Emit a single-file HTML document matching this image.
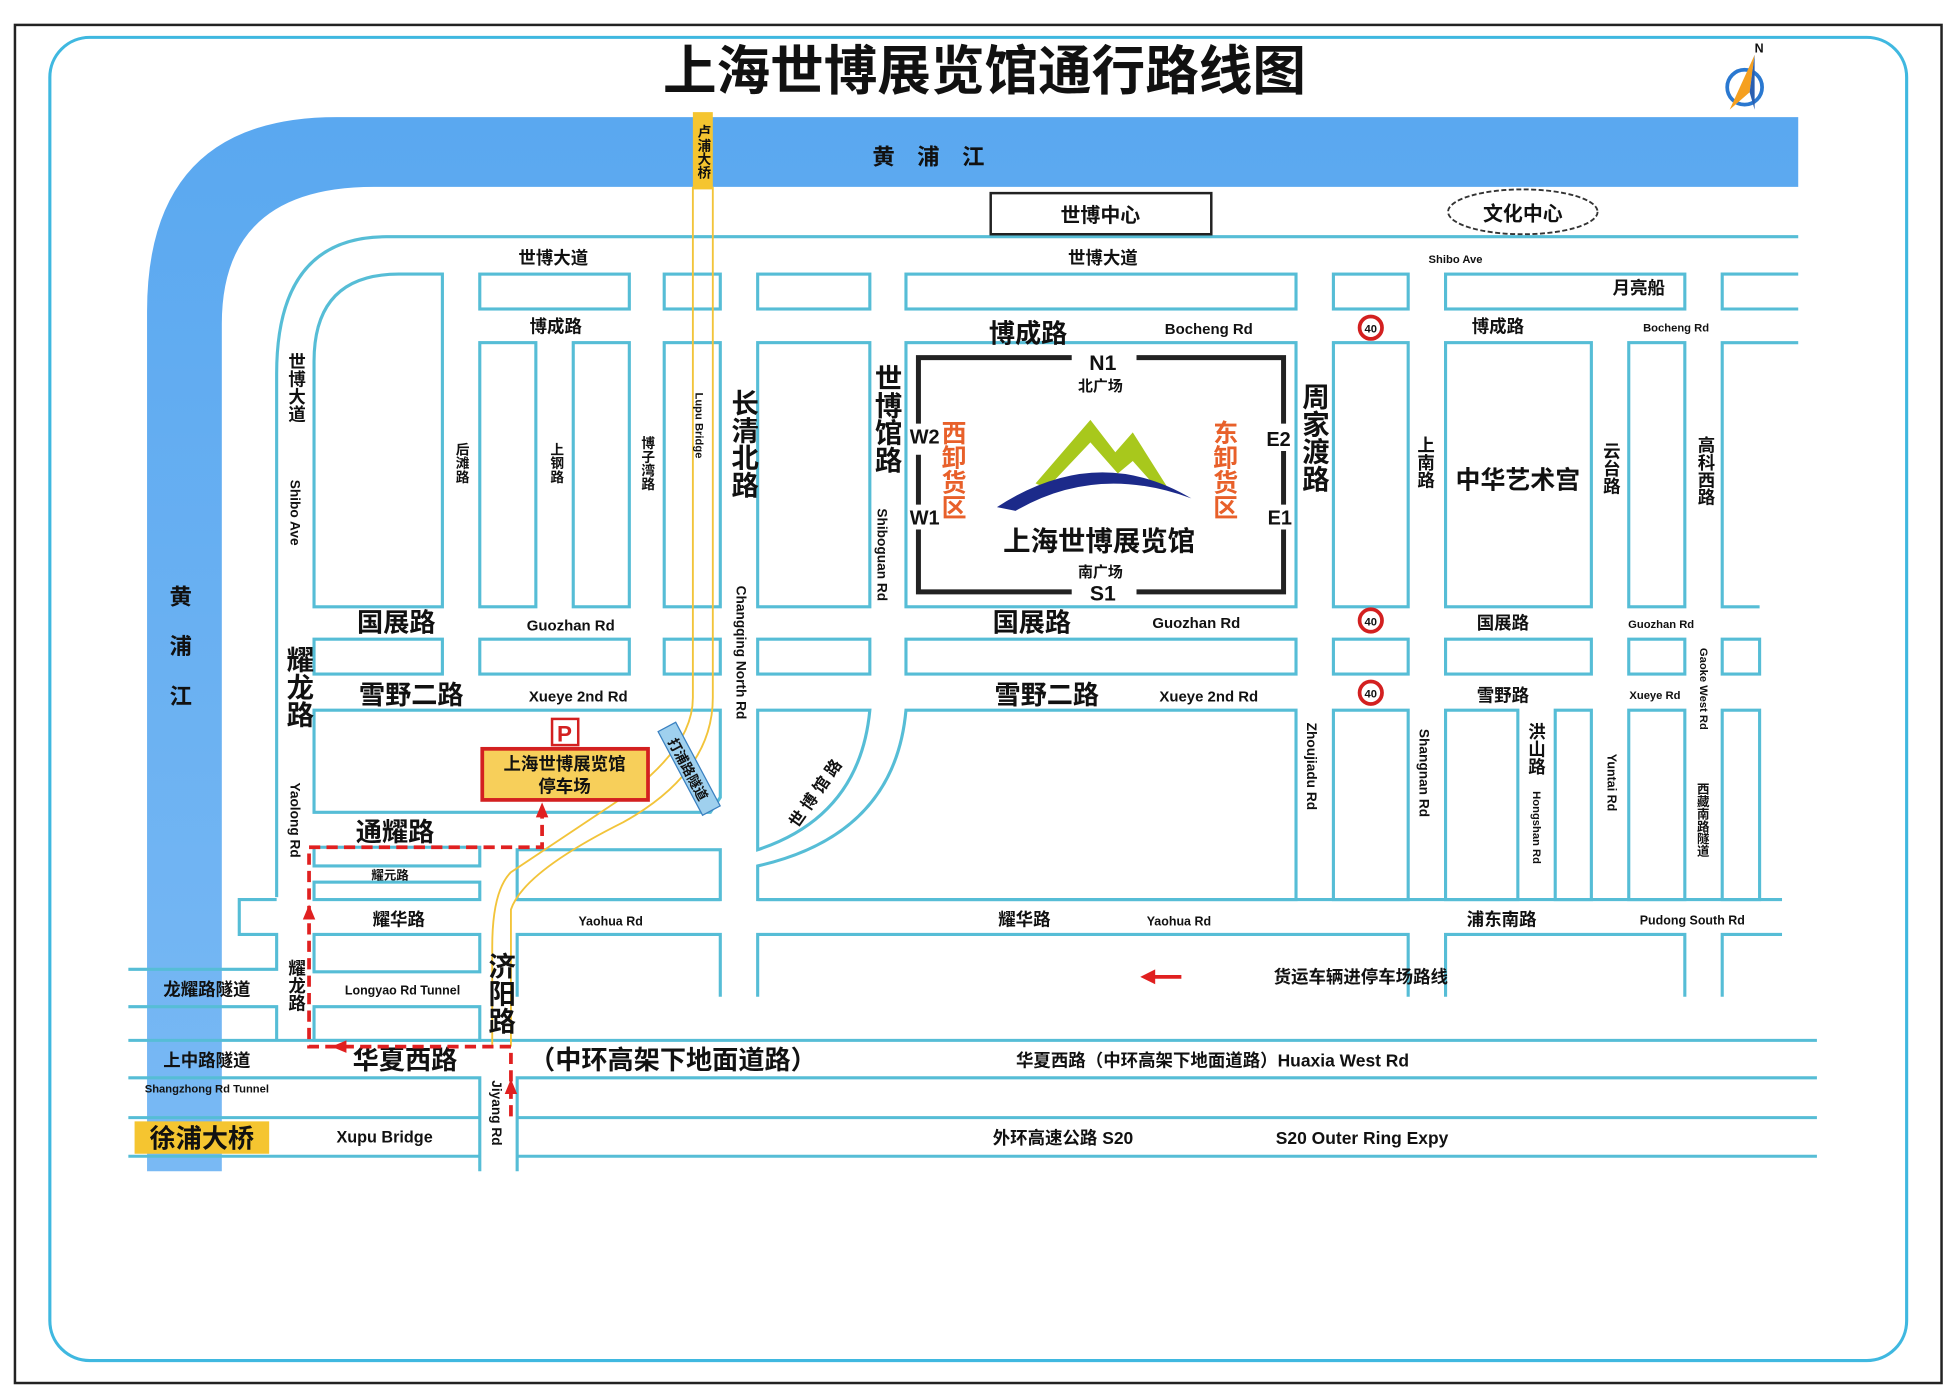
<!DOCTYPE html>
<html><head><meta charset="utf-8"><style>
html,body{margin:0;padding:0;background:#fff}
svg{display:block}
text{font-family:"Liberation Sans","Noto Sans CJK SC",sans-serif;font-weight:bold;fill:#111}
.v{writing-mode:vertical-rl;text-orientation:upright}
</style></head><body>
<svg width="1954" height="1388" viewBox="0 0 1568 1114" preserveAspectRatio="none" xmlns="http://www.w3.org/2000/svg">
<rect x="12" y="20" width="1546" height="1090" fill="#fff" stroke="#222" stroke-width="2"/>
<rect x="40" y="30" width="1490" height="1062" rx="32" fill="#fff" stroke="#3fb8e0" stroke-width="2.5"/>
<text x="790" y="72" font-size="43" text-anchor="middle">上海世博展览馆通行路线图</text>
<!-- compass -->
<g transform="translate(1400,70)">
<circle r="14" fill="none" stroke="#2a78d0" stroke-width="3"/>
<path d="M8,-26 L-12,18 L4,4 Z" fill="#f5a020"/>
<path d="M8,-26 L4,4 L8,18 Z" fill="#2a5fb0"/>
<text x="8" y="-28" font-size="10">N</text>
</g>
<!-- river -->
<defs><linearGradient id="rv" x1="0" y1="0" x2="0" y2="1"><stop offset="0" stop-color="#5aa8f0"/><stop offset="1" stop-color="#79b9f4"/></linearGradient></defs>
<path d="M1443,94 L270,94 Q118,94 118,250 L118,940 L178,940 L178,260 Q178,150 300,150 L1443,150 Z" fill="url(#rv)"/>
<text x="745" y="132" font-size="18" text-anchor="middle">黄　浦　江</text>
<text x="145" y="485" font-size="18" text-anchor="middle">黄</text>
<text x="145" y="525" font-size="18" text-anchor="middle">浦</text>
<text x="145" y="565" font-size="18" text-anchor="middle">江</text>
<!-- roads / blocks -->
<g fill="#fff" stroke="#56bdd6" stroke-width="2.5">
<path d="M1443,190 L310,190 Q222,190 222,300 L222,720" fill="none"/>
<path d="M355,487 L252,487 L252,290 Q252,220 320,220 L355,220 Z"/>
<rect x="385" y="220" width="120" height="28"/><rect x="533" y="220" width="45" height="28"/><rect x="608" y="220" width="90" height="28"/><rect x="727" y="220" width="313" height="28"/><rect x="1070" y="220" width="60" height="28"/><rect x="1160" y="220" width="192" height="28"/><path d="M1443,220 L1382,220 L1382,248 L1443,248"/>
<rect x="385" y="275" width="45" height="212"/><rect x="460" y="275" width="45" height="212"/><rect x="533" y="275" width="45" height="212"/><rect x="608" y="275" width="90" height="212"/><rect x="727" y="275" width="313" height="212"/><rect x="1070" y="275" width="60" height="212"/><rect x="1160" y="275" width="117" height="212"/><rect x="1307" y="275" width="45" height="212"/><path d="M1443,275 L1382,275 L1382,487 L1412,487"/>
<rect x="252" y="513" width="103" height="28"/><rect x="385" y="513" width="120" height="28"/><rect x="533" y="513" width="45" height="28"/><rect x="608" y="513" width="90" height="28"/><rect x="727" y="513" width="313" height="28"/><rect x="1070" y="513" width="60" height="28"/><rect x="1160" y="513" width="117" height="28"/><rect x="1307" y="513" width="45" height="28"/><rect x="1382" y="513" width="30" height="28"/>
<path d="M252,570 L578,570 L578,640 L570,652 L252,652 Z"/>
<path d="M608,570 L698,570 Q690,655 608,682 Z"/>
<path d="M727,570 L1040,570 L1040,722 L608,722 L608,695 Q718,670 727,570 Z"/>
<rect x="1070" y="570" width="60" height="152"/><rect x="1160" y="570" width="58" height="152"/><rect x="1248" y="570" width="29" height="152"/><rect x="1307" y="570" width="45" height="152"/><rect x="1382" y="570" width="30" height="152"/>
<rect x="252" y="680" width="133" height="15"/><rect x="252" y="708" width="133" height="14"/><rect x="415" y="682" width="163" height="40"/>
<path d="M222,722 L192,722 L192,750 L222,750 L222,778 L103,778 M103,808 L222,808 L222,835" fill="none"/>
<path d="M1430,722 L608,722 M578,722 L415,722" fill="none"/>
<path d="M252,750 L385,750 L385,780 L252,780 Z"/><path d="M252,808 L385,808 L385,835 L252,835 Z"/>
<path d="M415,800 L415,750 L578,750 L578,800" fill="none"/><path d="M608,800 L608,750 L1130,750 L1130,800" fill="none"/><path d="M1160,800 L1160,750 L1352,750 L1352,800" fill="none"/><path d="M1382,800 L1382,750 L1430,750" fill="none"/>
<path d="M103,835 L1458,835 M103,865 L385,865 L385,940 M415,940 L415,865 L1458,865 M103,897 L385,897 M415,897 L1458,897 M103,928 L385,928 M415,928 L1458,928" fill="none"/>
</g>
<!-- lupu bridge -->
<g fill="none" stroke="#f2c43a" stroke-width="1.5">
<path d="M556,150 L556,560 Q556,600 500,640 Q440,680 410,700 Q395,715 395,760 L395,840"/>
<path d="M572,150 L572,560 Q572,620 500,660 Q420,700 410,730 L410,840"/>
</g>
<rect x="556" y="90" width="16" height="62" fill="#f5c530"/>
<text x="564" y="100" font-size="11" class="v">卢浦大桥</text>
<!-- centers -->
<rect x="795" y="155" width="177" height="33" fill="#fff" stroke="#222" stroke-width="2"/>
<text x="883" y="178" font-size="16" text-anchor="middle">世博中心</text>
<ellipse cx="1222" cy="170" rx="60" ry="18" fill="#fff" stroke="#333" stroke-width="1.5" stroke-dasharray="4,2"/>
<text x="1222" y="177" font-size="16" text-anchor="middle">文化中心</text>
<!-- road labels -->
<g font-size="14">
<text x="444" y="212" text-anchor="middle">世博大道</text><text x="885" y="212" text-anchor="middle">世博大道</text><text x="1168" y="211" text-anchor="middle" font-size="9">Shibo Ave</text>
<text x="1315" y="236" text-anchor="middle">月亮船</text>
<text x="446" y="267" text-anchor="middle">博成路</text><text x="970" y="268" text-anchor="middle" font-size="12">Bocheng Rd</text><text x="1202" y="267" text-anchor="middle">博成路</text><text x="1345" y="266" text-anchor="middle" font-size="9">Bocheng Rd</text>
<text x="458" y="506" text-anchor="middle" font-size="12">Guozhan Rd</text><text x="960" y="504" text-anchor="middle" font-size="12">Guozhan Rd</text><text x="1206" y="505" text-anchor="middle">国展路</text><text x="1333" y="504" text-anchor="middle" font-size="9">Guozhan Rd</text>
<text x="464" y="563" text-anchor="middle" font-size="12">Xueye 2nd Rd</text><text x="970" y="563" text-anchor="middle" font-size="12">Xueye 2nd Rd</text><text x="1206" y="563" text-anchor="middle">雪野路</text><text x="1328" y="561" text-anchor="middle" font-size="9">Xueye Rd</text>
<text x="320" y="743" text-anchor="middle">耀华路</text><text x="490" y="743" text-anchor="middle" font-size="10">Yaohua Rd</text><text x="822" y="743" text-anchor="middle">耀华路</text><text x="946" y="743" text-anchor="middle" font-size="10">Yaohua Rd</text><text x="1205" y="743" text-anchor="middle">浦东南路</text><text x="1358" y="742" text-anchor="middle" font-size="10">Pudong South Rd</text>
<text x="313" y="706" text-anchor="middle" font-size="10">耀元路</text>
<text x="166" y="799" text-anchor="middle">龙耀路隧道</text><text x="323" y="798" text-anchor="middle" font-size="10">Longyao Rd Tunnel</text>
<text x="166" y="856" text-anchor="middle">上中路隧道</text><text x="166" y="877" text-anchor="middle" font-size="9">Shangzhong Rd Tunnel</text>
<text x="973" y="856" text-anchor="middle">华夏西路（中环高架下地面道路）Huaxia West Rd</text>
<text x="270" y="917" font-size="13">Xupu Bridge</text>
<text x="853" y="918" text-anchor="middle">外环高速公路 S20</text><text x="1093" y="918" text-anchor="middle">S20 Outer Ring Expy</text>
<text x="1022" y="789" font-size="14">货运车辆进停车场路线</text>
</g>
<rect x="108" y="900" width="108" height="26" fill="#f5c530"/>
<text x="162" y="921" font-size="21" text-anchor="middle">徐浦大桥</text>
<g font-size="21">
<text x="318" y="507" text-anchor="middle">国展路</text><text x="828" y="507" text-anchor="middle">国展路</text>
<text x="330" y="565" text-anchor="middle">雪野二路</text><text x="840" y="565" text-anchor="middle">雪野二路</text>
<text x="825" y="275" text-anchor="middle">博成路</text>
<text x="317" y="675" text-anchor="middle">通耀路</text>
<text x="325" y="858" text-anchor="middle">华夏西路</text>
<text x="540" y="858" text-anchor="middle">（中环高架下地面道路）</text>
</g>
<g font-size="22">
<text x="596" y="312" class="v">长清北路</text>
<text x="711" y="292" class="v">世博馆路</text>
<text x="1054" y="307" class="v">周家渡路</text>
<text x="401" y="764" class="v">济阳路</text>
<text x="239" y="518" class="v">耀龙路</text>
</g>
<g font-size="14">
<text x="238" y="283" class="v">世博大道</text>
<text x="370" y="355" class="v" font-size="11">后滩路</text>
<text x="446" y="355" class="v" font-size="11">上钢路</text>
<text x="519" y="350" class="v" font-size="11">博子湾路</text>
<text x="1144" y="350" class="v">上南路</text>
<text x="1293" y="355" class="v">云台路</text>
<text x="1369" y="350" class="v">高科西路</text>
<text x="1233" y="580" class="v">洪山路</text>
<text x="238" y="770" class="v">耀龙路</text>
<text x="1366" y="628" class="v" font-size="10">西藏南路隧道</text>
</g>
<text x="1218" y="392" font-size="20" text-anchor="middle">中华艺术宫</text>
<g font-size="11" font-weight="bold">
<text transform="translate(233,385) rotate(90)">Shibo Ave</text>
<text transform="translate(558,315) rotate(90)" font-size="9">Lupu Bridge</text>
<text transform="translate(591,470) rotate(90)">Changqing North Rd</text>
<text transform="translate(704,408) rotate(90)">Shiboguan Rd</text>
<text transform="translate(1049,580) rotate(90)">Zhoujiadu Rd</text>
<text transform="translate(1139,585) rotate(90)">Shangnan Rd</text>
<text transform="translate(1230,635) rotate(90)" font-size="9">Hongshan Rd</text>
<text transform="translate(1290,605) rotate(90)" font-size="10">Yuntai Rd</text>
<text transform="translate(1364,520) rotate(90)" font-size="9">Gaoke West Rd</text>
<text transform="translate(233,628) rotate(90)">Yaolong Rd</text>
<text transform="translate(395,867) rotate(90)">Jiyang Rd</text>
</g>
<text transform="translate(640,665) rotate(-55)" font-size="13">世 博 馆 路</text>
<!-- Dapu tunnel -->
<g transform="translate(553,617) rotate(62)"><rect x="-38" y="-8" width="76" height="16" fill="#9fd0ee" stroke="#3a80c0"/><text x="0" y="5" font-size="11" text-anchor="middle">打浦路隧道</text></g>
<!-- no-entry signs -->
<g fill="#fff" stroke="#d32020" stroke-width="3">
<circle cx="1100" cy="263" r="9"/><circle cx="1100" cy="498" r="9"/><circle cx="1100" cy="556" r="9"/>
</g>
<g font-size="9" text-anchor="middle"><text x="1100" y="267">40</text><text x="1100" y="502">40</text><text x="1100" y="560">40</text></g>
<!-- parking -->
<rect x="443" y="577" width="21" height="21" fill="#fff" stroke="#d32020" stroke-width="2"/>
<text x="453" y="595" font-size="18" text-anchor="middle" style="fill:#d32020">P</text>
<rect x="387" y="601" width="133" height="41" fill="#f7cf5a" stroke="#d32020" stroke-width="3"/>
<text x="453" y="618" font-size="14" text-anchor="middle">上海世博展览馆</text>
<text x="453" y="636" font-size="14" text-anchor="middle">停车场</text>
<!-- red route -->
<path d="M410,896 L410,840 L248,840 L248,680 L435,680 L435,648" fill="none" stroke="#e02020" stroke-width="3" stroke-dasharray="9,5"/>
<g fill="#e02020">
<path d="M435,644 L430,656 L440,656 Z"/><path d="M410,866 L405,878 L415,878 Z"/><path d="M248,726 L243,738 L253,738 Z"/><path d="M266,840 L278,835 L278,845 Z"/><path d="M915,784 L927,778 L927,790 Z"/>
</g>
<line x1="925" y1="784" x2="948" y2="784" stroke="#e02020" stroke-width="3"/>
<!-- expo hall -->
<g stroke="#222" stroke-width="4" fill="none">
<path d="M860,287 L737,287 L737,340 M737,365 L737,405 M737,425 L737,475 L860,475"/>
<path d="M912,287 L1030,287 L1030,340 M1030,362 L1030,405 M1030,425 L1030,475 L912,475"/>
</g>
<text x="885" y="297" font-size="17" text-anchor="middle">N1</text>
<text x="883" y="314" font-size="12" text-anchor="middle">北广场</text>
<text x="883" y="463" font-size="12" text-anchor="middle">南广场</text>
<text x="885" y="482" font-size="17" text-anchor="middle">S1</text>
<text x="742" y="356" font-size="16" text-anchor="middle">W2</text>
<text x="742" y="421" font-size="16" text-anchor="middle">W1</text>
<text x="1026" y="358" font-size="16" text-anchor="middle">E2</text>
<text x="1027" y="421" font-size="16" text-anchor="middle">E1</text>
<text x="764" y="337" font-size="20" class="v" style="fill:#e8602a">西卸货区</text>
<text x="982" y="337" font-size="20" class="v" style="fill:#e8602a">东卸货区</text>
<path d="M831,388 L875,337 L895,363 L909,347 L938,393 L925,388 L909,370 L897,380 L875,355 L840,392 Z" fill="#a8c81c"/>
<path d="M800,407 Q880,355 956,400 Q880,372 815,410 Z" fill="#1c2a8a"/>
<text x="882" y="442" font-size="22" text-anchor="middle">上海世博展览馆</text>
</svg>
</body></html>
